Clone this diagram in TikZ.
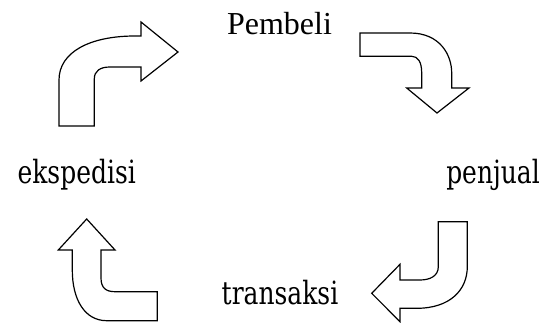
\documentclass[tikz,border=0pt]{standalone}
\usepackage{fontspec}
\setmainfont{Liberation Serif}
\newfontfamily\labelfont[FakeStretch=0.78]{DejaVu Serif}
\tikzset{
  bentarrow/.style={draw=black, line width=1.2pt, fill=white, line join=miter},
  lbl/.style={inner sep=0pt, anchor=base, font=\labelfont\fontsize{32}{32}\selectfont},
}
\begin{document}
\begin{tikzpicture}[x=1pt,y=-1pt]
\useasboundingbox (0,0) rectangle (549,323);

% labels round the cycle
\node[inner sep=0pt, anchor=base, font=\fontsize{32}{32}\selectfont] (pembeli) at (279.5,34.3) {Pembeli};
\node[lbl] (penjual) at (493,184) {penjual};
\node[lbl] (transaksi) at (280,304.3) {transaksi};
\node[lbl] (ekspedisi) at (76.7,183.3) {ekspedisi};

% top left: up, then right
\draw[bentarrow] (59,126) -- (59,80) .. controls (59,52) and (90,36) .. (135,36) -- (141,36)
  -- (141,22) -- (178,52) -- (141,81) -- (141,67) -- (110,67)
  .. controls (100,67) and (94.3,71) .. (94.3,79) -- (94.3,126) -- cycle;

% top right: right, then down
\draw[bentarrow] (360,33) -- (410,33) .. controls (440,33) and (451.7,55) .. (451.7,73)
  -- (451.7,88) -- (469,88) -- (437,113) -- (406.7,88) -- (421.7,88) -- (421.7,73)
  .. controls (421.7,62) and (418,56.3) .. (411.7,56.3) -- (360,56.3) -- cycle;

% bottom right: down, then left
\draw[bentarrow] (438.3,221.7) -- (438.3,266.7) .. controls (438.3,276) and (430,280) .. (420,280)
  -- (400,280) -- (400,264.3) -- (371.7,293.3) -- (400,321.7) -- (400,308.3) -- (416.7,308.3)
  .. controls (450,308.3) and (467.3,290) .. (467.3,266.7) -- (467.3,221.7) -- cycle;

% bottom left: left, then up
\draw[bentarrow] (157.3,291.7) -- (115,291.7) .. controls (106,291.7) and (101,288) .. (101,278)
  -- (101,250) -- (115,250) -- (86.7,219) -- (58.3,250) -- (72.3,250) -- (72.3,270)
  .. controls (72.3,300) and (85,320.7) .. (106.7,320.7) -- (157.3,320.7) -- cycle;
\end{tikzpicture}
\end{document}
